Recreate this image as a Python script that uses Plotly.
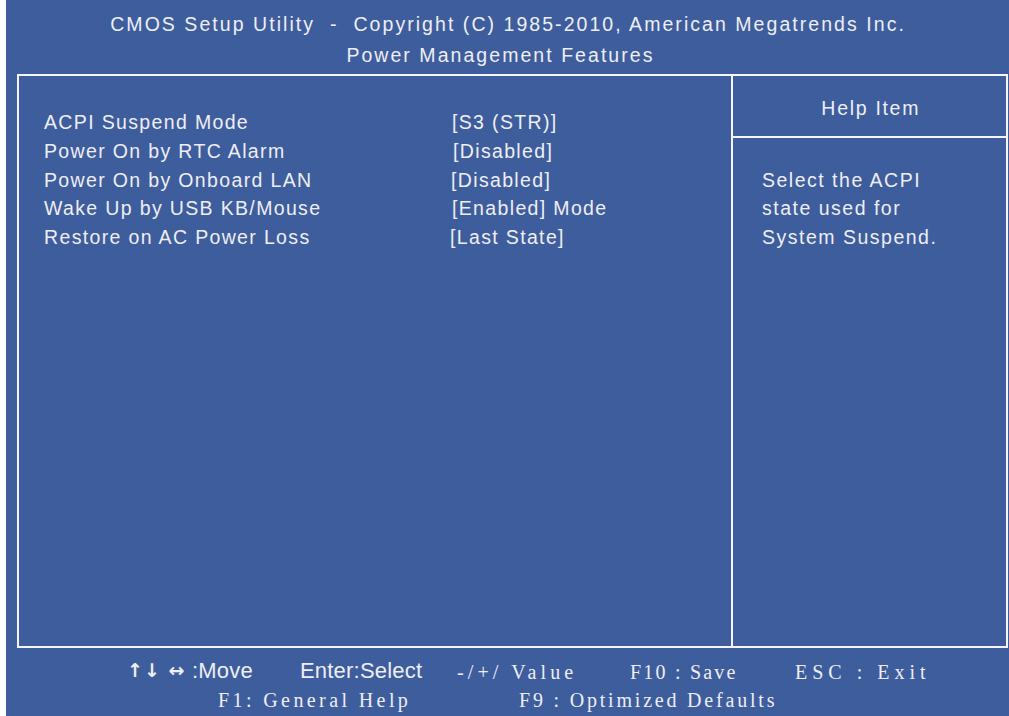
import plotly.graph_objects as go

# ---------------- data (text content) ----------------
title_lines = [
    "CMOS Setup Utility\u00a0\u00a0-\u00a0\u00a0Copyright (C) 1985-2010, American Megatrends Inc.",
    "Power Management Features",
]
setting_names = [
    "ACPI Suspend Mode",
    "Power On by RTC Alarm",
    "Power On by Onboard LAN",
    "Wake Up by USB KB/Mouse",
    "Restore on AC Power Loss",
]
setting_values = [
    "[S3 (STR)]",
    "[Disabled]",
    "[Disabled]",
    "[Enabled] Mode",
    "[Last State]",
]
help_title = "Help Item"
help_lines = ["Select the ACPI", "state used for", "System Suspend."]
footer_arrows = "\u2191\u2193 \u2194"
footer_sans = [":Move", "Enter:Select"]
footer_serif_row1 = ["-/+/ Value", "F10 : Save", "ESC : Exit"]
footer_serif_row2 = ["F1: General Help", "F9 : Optimized Defaults"]

# ---------------- style / layout ----------------
W, H = 1009, 716
BLUE = "#3E5D9C"
TXT = "#EEEEF4"
LINE = "#F4F4FA"
SANS = "Liberation Sans, Arial, sans-serif"
SERIF = "Liberation Serif, Times New Roman, serif"

row_y = [122, 151, 180, 208, 237]
value_x = [452, 453, 451, 452, 450]

fig = go.Figure()
fig.add_trace(go.Scatter(x=[0, W], y=[0, H], mode="markers",
                         marker=dict(opacity=0), hoverinfo="skip", showlegend=False))

shapes = [
    dict(type="rect", x0=6, x1=W + 2, y0=-2, y1=H + 2, fillcolor=BLUE,
         line=dict(width=0), layer="below"),
    dict(type="rect", x0=18, x1=1007, y0=75, y1=647, fillcolor="rgba(0,0,0,0)",
         line=dict(color=LINE, width=2)),
    dict(type="line", x0=732, x1=732, y0=75, y1=647, line=dict(color=LINE, width=2)),
    dict(type="line", x0=732, x1=1007, y0=137, y1=137, line=dict(color=LINE, width=2)),
]

annotations = []
spacing_of = {}  # annotation index -> letter spacing (px)


def add(text, x, y, family=SANS, size=19.5, xanchor="left", ls=1.35):
    if ls:
        spacing_of[len(annotations)] = ls
    annotations.append(dict(
        text=text, x=x, y=y, xref="x", yref="y", showarrow=False,
        xanchor=xanchor, yanchor="middle", align=xanchor,
        font=dict(family=family, size=size, color=TXT), borderpad=0, borderwidth=0,
    ))


add(title_lines[0], 508, 24, xanchor="center", ls=2.05)
add(title_lines[1], 500, 55, xanchor="center", ls=2.05)
for i, name in enumerate(setting_names):
    add(name, 44, row_y[i])
for i, val in enumerate(setting_values):
    add(val, value_x[i], row_y[i])
add(help_title, 870, 108, xanchor="center", ls=1.7)
for i, line in enumerate(help_lines):
    add(line, 762, row_y[i + 2], ls=1.5)

# footer: arrows (bigger glyphs) + condensed-looking sans labels
add('<span style="font-family:DejaVu Sans;font-weight:bold">' + footer_arrows + "</span>",
    127, 670, size=19, ls=1.0)
footer_sans_x = [192, 300]
for t, x in zip(footer_sans, footer_sans_x):
    add(t, x, 670, size=22, ls=0.2)
footer_r1_x = [457, 630, 795]
footer_r1_ls = [4.1, 2.2, 5.0]
for t, x, s in zip(footer_serif_row1, footer_r1_x, footer_r1_ls):
    add(t, x, 672, family=SERIF, size=20, ls=s)
footer_r2_x = [218, 519]
footer_r2_ls = [3.4, 2.8]
for t, x, s in zip(footer_serif_row2, footer_r2_x, footer_r2_ls):
    add(t, x, 700, family=SERIF, size=20, ls=s)

fig.update_layout(
    width=W, height=H, margin=dict(l=0, r=0, t=0, b=0),
    paper_bgcolor="white", plot_bgcolor="white",
    xaxis=dict(range=[0, W], visible=False, fixedrange=True),
    yaxis=dict(range=[H, 0], visible=False, fixedrange=True),
    shapes=shapes, annotations=annotations, showlegend=False,
)

rules = "body{margin:0;padding:0;overflow:hidden;}" + "".join(
    'g.annotation[data-index="%d"] text.annotation-text{letter-spacing:%.2fpx;}' % (i, s)
    for i, s in spacing_of.items()
)
post = ("var st=document.createElement('style');st.textContent='" + rules +
        "';document.head.appendChild(st);")

fig.write_html("out.html", config={"displayModeBar": False, "staticPlot": True},
               post_script=post)
